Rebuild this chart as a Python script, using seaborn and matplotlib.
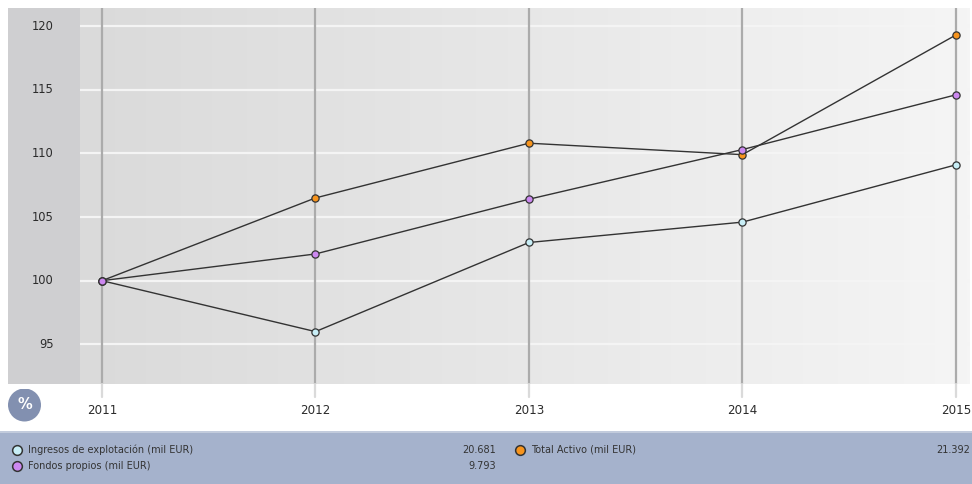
import numpy as np
import pandas as pd
import matplotlib
matplotlib.use("Agg")
import matplotlib.pyplot as plt
from matplotlib.patches import Rectangle, Circle
from matplotlib.lines import Line2D
import seaborn as sns

sns.set_theme(style="white")
plt.rcParams["font.family"] = ["DejaVu Sans"]

years = [2011, 2012, 2013, 2014, 2015]
ingresos = [100.0, 96.0, 103.0, 104.6, 109.1]
fondos = [100.0, 102.1, 106.4, 110.3, 114.6]
activo = [100.0, 106.5, 110.8, 109.9, 119.3]

series_names = ["Ingresos de explotación (mil EUR)", "Fondos propios (mil EUR)",
                "Total Activo (mil EUR)"]
series_values = [ingresos, fondos, activo]
series_colors = ["#c8eef6", "#cc88f0", "#f7941d"]
legend_totals = ["20.681", "9.793", "21.392"]
y_ticks = [95, 100, 105, 110, 115, 120]

W, H = 972, 484
fig = plt.figure(figsize=(W / 100, H / 100), dpi=100)
fig.patch.set_facecolor("white")


def fx(px):
    return px / W


def fy(py):
    return 1 - py / H


# darker strip holding the value labels
fig.patches.append(Rectangle((fx(8), fy(384)), fx(80) - fx(8), fy(8) - fy(384),
                             transform=fig.transFigure, facecolor="#cfcfd1",
                             edgecolor="none", zorder=-1))

ax = fig.add_axes([fx(80), fy(384), fx(970) - fx(80), fy(8) - fy(384)])
x0, x1 = 2010.897, 2015.066
y0, y1 = 91.885, 121.42
ax.set_xlim(x0, x1)
ax.set_ylim(y0, y1)

# horizontal background gradient
grad = np.linspace(0, 1, 256).reshape(1, -1)
cmap = matplotlib.colors.LinearSegmentedColormap.from_list("bg", ["#dadada", "#f5f5f5"])
ax.imshow(grad, extent=[x0, x1, y0, y1], aspect="auto", cmap=cmap, zorder=0)

for v in y_ticks:
    ax.axhline(v, color="#f4f4f4", lw=1.6, zorder=1)
    ypix = ax.transData.transform((2012, v))[1]
    fig.text(fx(54), ypix / H, str(v), ha="right", va="center",
             fontsize=8.3, color="#2b2b2b")

for yr in years:
    ax.axvline(yr, color="#ababab", lw=1.6, zorder=2)
    ax.axvline(yr, ymin=-0.035, ymax=0, color="#dadada", lw=1.6, zorder=2, clip_on=False)

# drawing order keeps the purple markers on top where points coincide
for layer, idx in enumerate([0, 2, 1]):
    df = pd.DataFrame({"year": years, "value": series_values[idx]})
    sns.lineplot(data=df, x="year", y="value", ax=ax, color="#333333", lw=1.0,
                 marker="o", markersize=5.2, markerfacecolor=series_colors[idx],
                 markeredgecolor="#333333", markeredgewidth=0.9, zorder=4 + layer)

ax.set_xticks([])
ax.set_yticks([])
ax.set_xlabel("")
ax.set_ylabel("")
for s in ax.spines.values():
    s.set_visible(False)

# year labels under the panel
for yr in years:
    xp = ax.transData.transform((yr, 100))[0]
    fig.text(xp / W, fy(411), str(yr), ha="center", va="center",
             fontsize=8.6, color="#2b2b2b")

# percent badge
badge = fig.add_axes([fx(8), fy(421.5), fx(41) - fx(8), fy(388.5) - fy(421.5)])
badge.set_xlim(-1, 1)
badge.set_ylim(-1, 1)
badge.axis("off")
badge.add_patch(Circle((0, 0), 1, facecolor="#8290b0", edgecolor="none"))
badge.text(0, 0.02, "%", ha="center", va="center", fontsize=10.5, color="white",
           fontweight="bold")

# legend band
fig.patches.append(Rectangle((0, 0), 1, fy(431), transform=fig.transFigure,
                             facecolor="#a5b2cc", edgecolor="none", zorder=-1))
fig.lines.append(Line2D([0, 1], [fy(431.5), fy(431.5)], transform=fig.transFigure,
                        color="#c9d1e0", lw=1.2))

legend_pos = [(17, 450, 496), (17, 466, 496), (520, 450, 970)]
for (mx, my, vx), name, col, tot in zip(legend_pos, series_names, series_colors, legend_totals):
    fig.lines.append(Line2D([fx(mx)], [fy(my)], transform=fig.transFigure,
                            marker="o", markersize=7, markerfacecolor=col,
                            markeredgecolor="#333333", markeredgewidth=1.1, ls="none"))
    fig.text(fx(mx + 11), fy(my), name, ha="left", va="center", fontsize=7,
             color="#333333")
    fig.text(fx(vx), fy(my), tot, ha="right", va="center", fontsize=7,
             color="#333333")

fig.savefig("out.png", dpi=100, facecolor="white")
